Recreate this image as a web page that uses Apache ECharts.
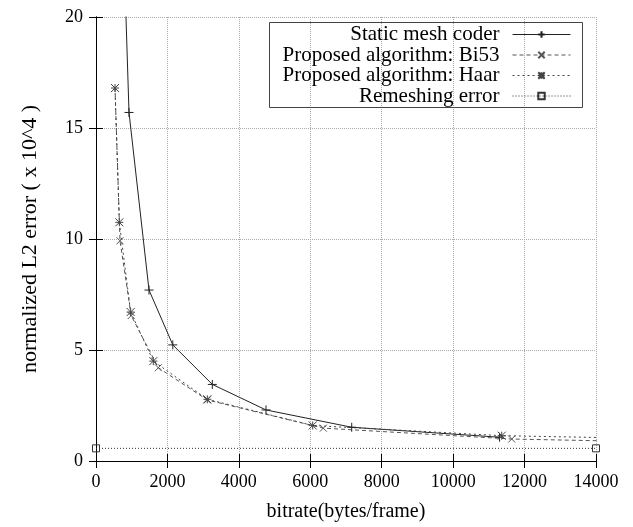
<!DOCTYPE html>
<html>
<head>
<meta charset="utf-8">
<script src="https://cdn.jsdelivr.net/npm/echarts@6/dist/echarts.min.js"></script>
<style>
  html, body { margin: 0; padding: 0; background: #fff; }
  #chart { width: 633px; height: 527px; }
</style>
</head>
<body>
<div id="chart"></div>
<script>
// values
const staticCoder = [[800, 22], [924, 15.7], [1484, 7.7], [2150, 5.23], [3257, 3.45], [4760, 2.3], [7160, 1.52], [11300, 1.07]];
const bi53 = [[532, 16.8], [672, 9.92], [985, 6.55], [1745, 4.2], [3117, 2.75], [6365, 1.48], [11640, 0.99], [16000, 0.85]];
const haar = [[532, 16.8], [653, 10.75], [970, 6.71], [1605, 4.5], [3117, 2.78], [6067, 1.6], [11360, 1.14], [16000, 1.0]];
const remeshing = [[0, 0.57], [14000, 0.57]];
const seriesNames = ['Static mesh coder', 'Proposed algorithm: Bi53', 'Proposed algorithm: Haar', 'Remeshing error'];

const FONT = 'Liberation Serif';
const PLUS = 'path://M5,0L5,10M0,5L10,5';
const CROSS = 'path://M0,0L10,10M10,0L0,10';
const STAR = 'path://M0,0L10,10M10,0L0,10M5,0L5,10M0,5L10,5';

const chart = echarts.init(document.getElementById('chart'));

// vertical centre of each legend row
const legendRows = [35, 55.5, 76, 96.5];

function makeSeries(name, data, symbol, size, lineType, color) {
    return {
        name: name,
        type: 'line',
        data: data,
        symbol: symbol,
        symbolSize: size,
        showAllSymbol: true,
        clip: true,
        animation: false,
        lineStyle: { color: color, width: 1, type: lineType },
        itemStyle: { color: 'transparent', borderColor: color, borderWidth: 1 }
    };
}

const option = {
    backgroundColor: '#fff',
    animation: false,
    grid: { left: 96, right: 37, top: 17, bottom: 64 },
    legend: seriesNames.map((name, i) => ({
        data: [name],
        orient: 'vertical',
        align: 'right',
        right: 62,
        top: legendRows[i] - 11,
        padding: 0,
        itemWidth: 58,
        itemHeight: 8,
        selectedMode: false,
        lineStyle: { width: 1 },
        textStyle: { fontFamily: FONT, fontSize: 21, color: '#000', padding: [0, 8, 0, 0] }
    })),
    graphic: [{
        type: 'rect',
        shape: { x: 269.5, y: 22.5, width: 313, height: 85 },
        style: { fill: 'none', stroke: '#444', lineWidth: 1 },
        z: 5
    }],
    xAxis: [{
        type: 'value',
        min: 0, max: 14000, interval: 2000,
        name: 'bitrate(bytes/frame)',
        nameLocation: 'middle',
        nameGap: 41,
        nameTextStyle: { fontFamily: FONT, fontSize: 20, color: '#000' },
        axisLine: { lineStyle: { color: '#000', width: 1 } },
        axisTick: { inside: true, length: 7, lineStyle: { color: '#000' } },
        axisLabel: { fontFamily: FONT, fontSize: 18, color: '#000', margin: 12, formatter: v => String(v) },
        splitLine: { show: true, lineStyle: { color: '#aaa', type: 'dotted' } }
    }, {
        type: 'value', position: 'top',
        min: 0, max: 14000, interval: 2000,
        axisLine: { show: true, lineStyle: { color: '#000' } },
        axisTick: { inside: true, length: 7, lineStyle: { color: '#000' } },
        axisLabel: { show: false },
        splitLine: { show: false }
    }],
    yAxis: [{
        type: 'value',
        min: 0, max: 20, interval: 5,
        name: 'normalized L2 error ( x 10^4 )',
        nameLocation: 'middle',
        nameGap: 55,
        nameTextStyle: { fontFamily: FONT, fontSize: 22, color: '#000' },
        axisLine: { show: true, lineStyle: { color: '#000' } },
        axisTick: { show: true, inside: true, length: 7, lineStyle: { color: '#000' } },
        axisLabel: { fontFamily: FONT, fontSize: 18, color: '#000', margin: 13 },
        splitLine: { show: true, lineStyle: { color: '#aaa', type: 'dotted' } }
    }, {
        type: 'value', position: 'right',
        min: 0, max: 20, interval: 5,
        axisLine: { show: true, lineStyle: { color: '#000' } },
        axisTick: { show: true, inside: true, length: 7, lineStyle: { color: '#000' } },
        axisLabel: { show: false },
        splitLine: { show: false }
    }],
    series: [
        makeSeries(seriesNames[0], staticCoder, PLUS, 9, 'solid', '#222'),
        makeSeries(seriesNames[1], bi53, CROSS, 7, [4, 3], '#555'),
        makeSeries(seriesNames[2], haar, STAR, 8, [2, 3], '#444'),
        makeSeries(seriesNames[3], remeshing, 'rect', 7, [1, 2], '#333')
    ]
};

chart.setOption(option);
</script>
</body>
</html>
